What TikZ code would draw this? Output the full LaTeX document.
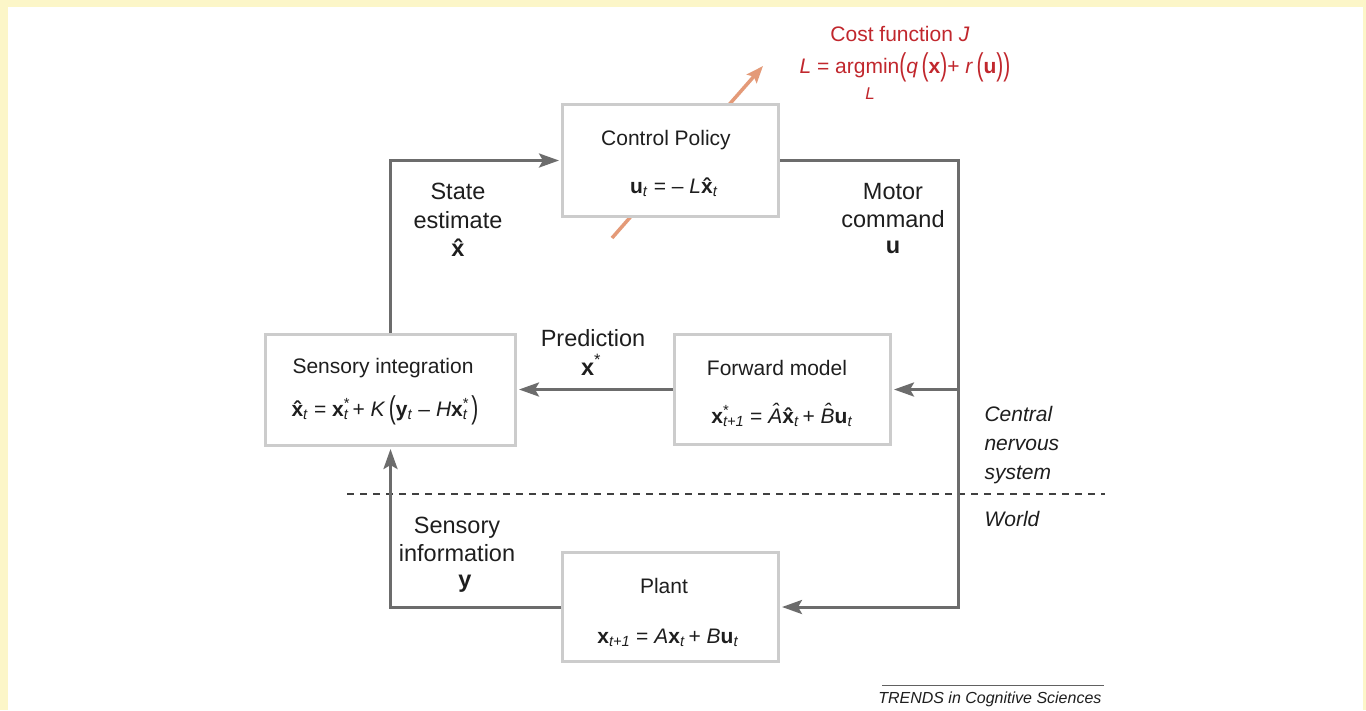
\documentclass[tikz,border=0pt]{standalone}
\usepackage{fontspec}
\setmainfont{Liberation Sans}
\usepackage{graphicx}
\usetikzlibrary{arrows.meta}
\definecolor{frameyellow}{HTML}{FCF6C8}
\definecolor{boxgray}{HTML}{CCCCCC}
\definecolor{linegray}{HTML}{6C6C6C}
\definecolor{arroworange}{HTML}{E49A78}
\definecolor{costred}{HTML}{C1272D}
\definecolor{txt}{HTML}{1E1E1E}
\newcommand{\tsub}[1]{\textsubscript{\textit{#1}}}
\newcommand{\tstar}[1]{\rlap{\textsuperscript{*}}\textsubscript{\textit{#1}}}
\newcommand{\hatx}{\textbf{\ooalign{x\cr\hidewidth\char"02C6\hidewidth\cr}}}
\newcommand{\hatcap}[1]{\textit{\ooalign{#1\cr\hidewidth\raisebox{0.2em}{\char"02C6}\hidewidth\cr}}}
\newcommand{\tallp}[1]{\raisebox{-0.12em}{\scalebox{1}[1.5]{#1}}}
\begin{document}
\begin{tikzpicture}[x=1pt,y=-1pt,
  box/.style={draw=boxgray, line width=3pt, fill=white, minimum width=#1, inner sep=0pt},
  conn/.style={draw=linegray, line width=3pt, -{Stealth[length=20pt,width=14pt,inset=4pt]}, shorten >=2pt},
  lab/.style={font=\fontsize{23.5}{28}\selectfont, text=txt, anchor=base},
  ttl/.style={font=\fontsize{21}{26}\selectfont, text=txt, anchor=base},
  itl/.style={font=\fontsize{21}{26}\selectfont\itshape, text=txt, anchor=base west},
  red/.style={font=\fontsize{21}{26}\selectfont, text=costred, anchor=base},
  dashline/.style={draw=txt!85, line width=1.3pt, dash pattern=on 7pt off 6pt}
]
\fill[frameyellow] (0,0) rectangle (1366,710);
\fill[white] (8,7) rectangle (1363,710);
\useasboundingbox (0,0) rectangle (1366,710);

% dashed boundary
\coordinate (d1) at (347,494);
\coordinate (d2) at (1105,494);
\draw[dashline] (d1) -- (d2);

% orange arrow (behind control policy box)
\coordinate (o1) at (612,238);
\coordinate (o2) at (763,66);
\draw[arroworange, line width=3.5pt, -{Stealth[length=17pt,width=13pt,inset=3pt]}] (o1) -- (o2);

% boxes
\node[box=216pt, minimum height=112pt] (cp) at (670.5,160.5) {};
\node[box=250pt, minimum height=111pt] (si) at (390.5,390) {};
\node[box=216pt, minimum height=110pt] (fm) at (782.5,389.5) {};
\node[box=216pt, minimum height=109pt] (pl) at (670.5,607) {};

% connectors
\coordinate (c1) at (958,160.5);
\coordinate (c2) at (958,607);
\coordinate (c3) at (958,389.5);
\draw[conn] (cp.east) -- (c1) -- (c2) -- (pl.east);
\draw[conn] (c3) -- (fm.east);
\draw[conn] (fm.west) -- (si.east |- fm.west);
\draw[conn] (pl.west) -| (si.south);
\draw[conn] (si.north) |- (cp.west);

% box texts
\node[ttl] (cpt) at (666,145) {Control Policy};
\node[ttl] (cpf) at (674,193) {\textbf{u}\tsub{t} = – \textit{L}\hatx\tsub{t}};
\node[ttl] (sit) at (383,373) {Sensory integration};
\node[ttl] (sif) at (385,416) {\hatx\tsub{t} = \textbf{x}\tstar{t}\,+ \textit{K}\,\tallp{(}\textbf{y}\tsub{t} – \textit{H}\textbf{x}\tstar{t}\,\tallp{)}};
\node[ttl] (fmt) at (777,375) {Forward model};
\node[ttl] (fmf) at (782,423) {\textbf{x}\tstar{t+1} = \hatcap{A}\hatx\tsub{t}\,+ \hatcap{B}\textbf{u}\tsub{t}};
\node[ttl] (plt) at (664,593) {Plant};
\node[ttl] (plf) at (668,643) {\textbf{x}\tsub{t+1} = \textit{A}\textbf{x}\tsub{t}\,+ \textit{B}\textbf{u}\tsub{t}};

% connector labels
\node[lab] (se1) at (458,199) {State};
\node[lab] (se2) at (458,228) {estimate};
\node[lab] (se3) at (458,256) {\hatx};
\node[lab] (mc1) at (893,199) {Motor};
\node[lab] (mc2) at (893,227) {command};
\node[lab] (mc3) at (893,253) {\textbf{u}};
\node[lab] (pr1) at (593,346) {Prediction};
\node[lab] (pr2) at (591,375) {\textbf{x}\textsuperscript{*}};
\node[lab] (sn1) at (457,533) {Sensory};
\node[lab] (sn2) at (457,561) {information};
\node[lab] (sn3) at (465,587) {\textbf{y}};

% region labels
\node[itl] (cn1) at (981,421) {Central};
\node[itl] (cn2) at (981,450) {nervous};
\node[itl] (cn3) at (981,479) {system};
\node[itl] (wo) at (981,526) {World};

% cost function
\node[red] (cf1) at (900,41) {Cost function \textit{J}};
\node[red] (cf2) at (905,73) {\textit{L} = argmin\tallp{(}\textit{q}\,\tallp{(}\textbf{x}\tallp{)}+ \textit{r}\,\tallp{(}\textbf{u}\tallp{)}\tallp{)}};
\node[red, font=\fontsize{17}{20}\selectfont\itshape] (cf3) at (870,99) {L};

% credit
\coordinate (t1) at (882,685);
\coordinate (t2) at (1104,685);
\draw[txt!70, line width=1pt] (t1) -- (t2);
\node[font=\fontsize{16}{19}\selectfont\itshape, text=txt, anchor=base east] (tr) at (1105,703) {TRENDS in Cognitive Sciences};
\end{tikzpicture}
\end{document}
